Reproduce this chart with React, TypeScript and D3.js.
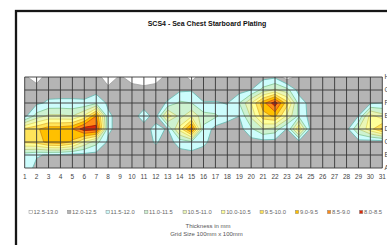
import React from 'react';
import * as d3 from 'd3';

// grid columns (x axis) and rows (series axis, top to bottom)
const columnLabels = ['1', '2', '3', '4', '5', '6', '7', '8', '9', '10', '11', '12', '13', '14', '15', '16',
    '17', '18', '19', '20', '21', '22', '23', '24', '25', '26', '27', '28', '29', '30', '31'];
const rowLabels = ['H', 'G', 'F', 'E', 'D', 'C', 'B', 'A'];

// plate thickness readings in mm, one array per row
const rowH = [12.4, 12.8, 12.2, 12.2, 12.2, 12.2, 12.2, 12.9, 12.4, 12.8, 12.9, 12.8, 12.3, 12.2, 12.7, 12.2,
    12.2, 12.2, 12.2, 12.2, 12.2, 12.1, 12.8, 12.3, 12.2, 12.2, 12.2, 12.2, 12.2, 12.2, 12.2];
const rowG = [12.2, 12.2, 12.2, 12.2, 12.2, 12.2, 12.2, 12.3, 12.2, 12.2, 12.3, 12.2, 12.2, 12.1, 12.05, 12.2,
    12.2, 12.2, 12.2, 12.0, 11.3, 10.9, 11.3, 12.2, 12.2, 12.2, 12.2, 12.2, 12.2, 12.2, 12.2];
const rowF = [12.2, 12.1, 11.92, 11.9, 11.9, 11.92, 11.6, 12.1, 12.2, 12.2, 12.2, 12.2, 11.95, 11.4, 11.5, 11.98,
    11.97, 12.02, 11.5, 10.5, 9.2, 8.2, 9.8, 11.7, 12.2, 12.2, 12.2, 12.2, 12.2, 12.1, 12.0];
const rowE = [12.15, 11.3, 10.9, 10.9, 11.0, 10.4, 9.0, 11.9, 12.2, 12.2, 11.8, 12.2, 10.2, 11.2, 10.6, 11.3,
    11.4, 11.85, 12.0, 10.9, 9.7, 9.4, 10.6, 11.6, 12.2, 12.2, 12.2, 12.2, 12.0, 10.3, 10.8];
const rowD = [9.9, 9.6, 9.2, 9.2, 9.0, 8.2, 8.3, 11.9, 12.2, 12.2, 12.2, 11.85, 12.05, 10.3, 8.7, 11.6,
    12.2, 12.2, 12.2, 11.6, 11.0, 11.2, 12.05, 10.0, 12.2, 12.2, 12.2, 12.2, 11.0, 10.2, 9.4];
const rowC = [9.9, 9.8, 9.3, 9.2, 9.6, 10.6, 11.3, 12.1, 12.2, 12.2, 12.2, 11.95, 12.2, 11.8, 11.6, 11.9,
    12.2, 12.2, 12.2, 12.2, 12.2, 12.2, 12.2, 12.2, 12.2, 12.2, 12.2, 12.2, 12.2, 12.3, 12.3];
const rowB = [11.8, 11.95, 12.05, 12.1, 12.2, 12.2, 12.2, 12.2, 12.2, 12.2, 12.2, 12.2, 12.2, 12.2, 12.2, 12.2,
    12.2, 12.2, 12.2, 12.2, 12.2, 12.2, 12.2, 12.2, 12.2, 12.2, 12.2, 12.2, 12.2, 12.2, 12.2];
const rowA = [11.7, 12.15, 12.2, 12.2, 12.2, 12.2, 12.2, 12.2, 12.2, 12.2, 12.2, 12.2, 12.2, 12.2, 12.2, 12.2,
    12.2, 12.2, 12.2, 12.2, 12.2, 12.2, 12.2, 12.2, 12.2, 12.2, 12.2, 12.2, 12.2, 12.2, 12.2];

// band upper limits, fills and edge colours (region below each limit)
const bandLimits = [12.5, 12.0, 11.5, 11.0, 10.5, 10.0, 9.5, 9.0, 8.5];
const bandFills = ['#b5b5b5', '#ccfcfc', '#cdf2d0', '#eaf6b6', '#ffff99', '#ffe45a', '#ffc000', '#ff8a16', '#dc2a0a'];
const bandStrokes = ['#9c9c9c', '#5db7ae', '#7fc28c', '#bcc874', '#dcd25c', '#e2b02c', '#d98a00', '#cf5200', '#a01200'];

const legendLabels = ['12.5-13.0', '12.0-12.5', '11.5-12.0', '11.0-11.5', '10.5-11.0', '10.0-10.5',
    '9.5-10.0', '9.0-9.5', '8.5-9.0', '8.0-8.5'];
const legendFills = ['#ffffff', ...bandFills];

const font = 'Liberation Sans, Arial, sans-serif';

const textWidth = (s: string, size: number) =>
    s.split('').reduce((w, ch) => w + (ch === '.' ? 0.278 : ch === '-' ? 0.333 : 0.556), 0) * size;

const App: React.FC = () => {
    const width = 387;
    const height = 245;
    const plot = { left: 24.7, right: 382.3, top: 77, bottom: 168 };

    const grid = [rowH, rowG, rowF, rowE, rowD, rowC, rowB, rowA];
    const nx = columnLabels.length;
    const ny = rowLabels.length;

    const x = d3.scaleLinear().domain([0, nx - 1]).range([plot.left, plot.right]);
    const y = d3.scaleLinear().domain([0, ny - 1]).range([plot.top, plot.bottom]);

    // contour the negated field so each polygon is "thickness below limit"
    const contours = d3.contours()
        .size([nx, ny])
        .thresholds(bandLimits.map(t => -t))(grid.flat().map(v => -v));

    const path = d3.geoPath(d3.geoTransform({
        point(px: number, py: number) {
            // @ts-ignore
            this.stream.point(x(px - 0.5), y(py - 0.5));
        }
    }));

    const legendSize = 5.8;
    const legendX: number[] = [];
    let lx = 29;
    legendLabels.forEach(l => {
        legendX.push(lx);
        lx += 14 + textWidth(l, legendSize);
    });

    return (
        <svg width={width} height={height} style={{ position: 'absolute', left: 0, top: 0, background: '#fff' }}
            fontFamily={font}>
            <rect x={16} y={11} width={420} height={300} fill="#fff" stroke="#161616" strokeWidth={2.3} />
            <text x={207} y={26} textAnchor="middle" fontSize={7} fontWeight="bold" fill="#111">
                SCS4 - Sea Chest Starboard Plating
            </text>

            <defs>
                <clipPath id="plot-clip">
                    <rect x={plot.left} y={plot.top} width={plot.right - plot.left} height={plot.bottom - plot.top} />
                </clipPath>
            </defs>

            <g clipPath="url(#plot-clip)">
                <rect x={plot.left} y={plot.top} width={plot.right - plot.left} height={plot.bottom - plot.top}
                    fill="#ffffff" />
                {contours.map(c => {
                    const i = bandLimits.indexOf(-c.value);
                    return (
                        <path key={c.value} d={path(c as any) || ''} fill={bandFills[i]}
                            stroke={bandStrokes[i]} strokeWidth={0.75} strokeLinejoin="round" />
                    );
                })}
            </g>

            <g stroke="#383838" strokeWidth={0.9}>
                {columnLabels.map((c, i) => (
                    <line key={c} x1={x(i)} x2={x(i)} y1={plot.top} y2={plot.bottom} />
                ))}
                {rowLabels.map((r, j) => (
                    <line key={r} x1={plot.left} x2={plot.right} y1={y(j)} y2={y(j)} />
                ))}
            </g>

            <g fontSize={6.5} fill="#444" textAnchor="middle">
                {columnLabels.map((c, i) => (
                    <text key={c} x={x(i)} y={179.3}>{c}</text>
                ))}
            </g>
            <g fontSize={6.5} fill="#444">
                {rowLabels.map((r, j) => (
                    <text key={r} x={384.6} y={y(j) + 2.3}>{r}</text>
                ))}
            </g>

            <g fontSize={legendSize} fill="#666">
                {legendLabels.map((l, i) => (
                    <g key={l}>
                        <rect x={legendX[i]} y={210.3} width={3.4} height={3.4} fill={legendFills[i]}
                            stroke="#8a8a8a" strokeWidth={0.5} />
                        <text x={legendX[i] + 4.6} y={214}>{l}</text>
                    </g>
                ))}
            </g>

            <g fontSize={6} fill="#555" textAnchor="middle">
                <text x={208} y={228}>Thickness in mm</text>
                <text x={206.5} y={235.5}>Grid Size 100mm x 100mm</text>
            </g>
        </svg>
    );
};

export default App;
